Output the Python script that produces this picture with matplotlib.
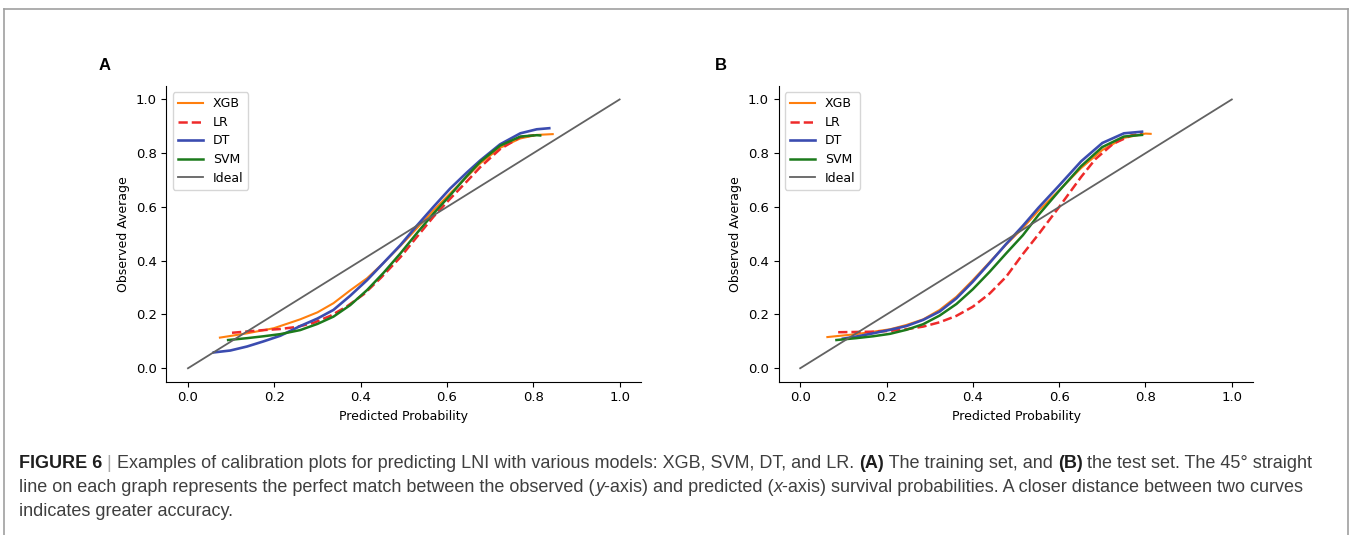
import matplotlib
matplotlib.use("Agg")
import matplotlib.pyplot as plt
from matplotlib.lines import Line2D

# Panel A (training set): points
a_xgb_x = [0.074, 0.137, 0.199, 0.260, 0.300, 0.337, 0.376, 0.415, 0.453, 0.492, 0.530, 0.569, 0.607, 0.646, 0.677, 0.723, 0.770, 0.808, 0.845]
a_xgb_y = [0.114, 0.130, 0.149, 0.182, 0.208, 0.242, 0.290, 0.335, 0.392, 0.455, 0.520, 0.588, 0.650, 0.712, 0.762, 0.820, 0.855, 0.868, 0.871]
a_lr_x = [0.102, 0.175, 0.214, 0.253, 0.291, 0.330, 0.368, 0.407, 0.446, 0.492, 0.530, 0.569, 0.607, 0.646, 0.677, 0.723, 0.770, 0.802]
a_lr_y = [0.132, 0.142, 0.146, 0.154, 0.169, 0.195, 0.230, 0.275, 0.335, 0.413, 0.488, 0.564, 0.630, 0.695, 0.748, 0.815, 0.860, 0.867]
a_dt_x = [0.060, 0.098, 0.137, 0.175, 0.214, 0.260, 0.300, 0.337, 0.376, 0.415, 0.453, 0.492, 0.530, 0.569, 0.607, 0.646, 0.677, 0.723, 0.770, 0.808, 0.837]
a_dt_y = [0.059, 0.066, 0.081, 0.100, 0.121, 0.157, 0.185, 0.217, 0.270, 0.328, 0.392, 0.458, 0.530, 0.601, 0.668, 0.728, 0.773, 0.833, 0.874, 0.889, 0.893]
a_svm_x = [0.093, 0.137, 0.175, 0.214, 0.260, 0.300, 0.337, 0.376, 0.415, 0.453, 0.492, 0.530, 0.569, 0.607, 0.646, 0.677, 0.723, 0.770, 0.808, 0.816]
a_svm_y = [0.105, 0.112, 0.119, 0.127, 0.142, 0.165, 0.192, 0.235, 0.291, 0.355, 0.427, 0.502, 0.576, 0.643, 0.715, 0.768, 0.828, 0.862, 0.867, 0.866]

# Panel B (test set)
b_xgb_x = [0.063, 0.130, 0.169, 0.208, 0.246, 0.285, 0.323, 0.362, 0.400, 0.439, 0.477, 0.516, 0.552, 0.600, 0.651, 0.700, 0.750, 0.800, 0.812]
b_xgb_y = [0.116, 0.127, 0.136, 0.145, 0.161, 0.182, 0.217, 0.266, 0.328, 0.395, 0.460, 0.522, 0.586, 0.662, 0.745, 0.812, 0.857, 0.873, 0.872]
b_lr_x = [0.088, 0.169, 0.208, 0.246, 0.285, 0.323, 0.362, 0.400, 0.439, 0.477, 0.516, 0.552, 0.600, 0.651, 0.684, 0.725, 0.767, 0.792]
b_lr_y = [0.134, 0.136, 0.139, 0.145, 0.155, 0.171, 0.195, 0.229, 0.278, 0.340, 0.425, 0.498, 0.600, 0.712, 0.778, 0.835, 0.866, 0.873]
b_dt_x = [0.099, 0.130, 0.169, 0.208, 0.246, 0.285, 0.323, 0.362, 0.400, 0.439, 0.477, 0.516, 0.552, 0.600, 0.651, 0.700, 0.750, 0.792]
b_dt_y = [0.110, 0.118, 0.130, 0.143, 0.157, 0.180, 0.211, 0.260, 0.322, 0.392, 0.462, 0.530, 0.597, 0.680, 0.770, 0.838, 0.874, 0.880]
b_svm_x = [0.084, 0.130, 0.169, 0.208, 0.246, 0.285, 0.323, 0.362, 0.400, 0.439, 0.477, 0.516, 0.552, 0.600, 0.651, 0.700, 0.750, 0.792]
b_svm_y = [0.105, 0.112, 0.119, 0.128, 0.143, 0.164, 0.196, 0.239, 0.294, 0.359, 0.427, 0.495, 0.570, 0.660, 0.752, 0.823, 0.862, 0.868]

ideal = [0.0, 1.0]
panel_labels = ["A", "B"]

W, H = 1352, 535
fig = plt.figure(figsize=(W / 100, H / 100), dpi=100)

# grey frame around the figure (left, top, right)
frame_col = "#a0a0a0"
top = 1 - 9 / H
fig.add_artist(Line2D([4 / W, 4 / W], [0, top], color=frame_col, lw=1.2))
fig.add_artist(Line2D([4 / W, 1348 / W], [top, top], color=frame_col, lw=1.2))
fig.add_artist(Line2D([1348 / W, 1348 / W], [0, top], color=frame_col, lw=1.2))

panels = [
    (a_xgb_x, a_xgb_y, a_lr_x, a_lr_y, a_dt_x, a_dt_y, a_svm_x, a_svm_y),
    (b_xgb_x, b_xgb_y, b_lr_x, b_lr_y, b_dt_x, b_dt_y, b_svm_x, b_svm_y),
]
ax_left = [166.4, 778.6]
lab_left = [99, 715]

for i, p in enumerate(panels):
    ax = fig.add_axes([ax_left[i] / W, (H - 381.7) / H, 474.8 / W, 295.7 / H])
    ax.plot(p[0], p[1], color="#ff7f0e", lw=1.5, label="XGB")
    ax.plot(p[2], p[3], color="#ee2a2a", lw=1.8, ls="--", label="LR")
    ax.plot(p[4], p[5], color="#3b4cb0", lw=1.9, label="DT")
    ax.plot(p[6], p[7], color="#1c7a1c", lw=1.8, label="SVM")
    ax.plot(ideal, ideal, color="#626262", lw=1.3, label="Ideal")
    ax.set_xlim(-0.05, 1.05)
    ax.set_ylim(-0.05, 1.05)
    ax.set_xticks([0, 0.2, 0.4, 0.6, 0.8, 1.0])
    ax.set_yticks([0, 0.2, 0.4, 0.6, 0.8, 1.0])
    ax.spines["top"].set_visible(False)
    ax.spines["right"].set_visible(False)
    ax.tick_params(labelsize=9.5)
    ax.set_xlabel("Predicted Probability", fontsize=9)
    ax.set_ylabel("Observed Average", fontsize=9)
    ax.legend(loc="upper left", fontsize=9, handlelength=2.0, labelspacing=0.45)
    fig.text(lab_left[i] / W, 1 - 66 / H, panel_labels[i],
             fontsize=12, fontweight="bold", family="Liberation Sans", va="center")

# caption with mixed bold / italic runs, laid out piece by piece
cap_fs = 13.0
grey = "#3f3f3f"
dark = "#1e1e1e"
lines = [
    [("FIGURE 6", "bold", "normal", dark), (" | ", "normal", "normal", "#aaaaaa"),
     ("Examples of calibration plots for predicting LNI with various models: XGB, SVM, DT, and LR. ", "normal", "normal", grey),
     ("(A)", "bold", "normal", dark), (" The training set, and ", "normal", "normal", grey),
     ("(B)", "bold", "normal", dark), (" the test set. The 45\u00b0 straight", "normal", "normal", grey)],
    [("line on each graph represents the perfect match between the observed (", "normal", "normal", grey),
     ("y", "normal", "italic", grey), ("-axis) and predicted (", "normal", "normal", grey),
     ("x", "normal", "italic", grey),
     ("-axis) survival probabilities. A closer distance between two curves", "normal", "normal", grey)],
    [("indicates greater accuracy.", "normal", "normal", grey)],
]
line_y = [463, 487, 512]

fig.canvas.draw()
renderer = fig.canvas.get_renderer()
for segs, ypix in zip(lines, line_y):
    xpix = 19
    for txt, wt, st, col in segs:
        t = fig.text(xpix / W, 1 - ypix / H, txt, fontsize=cap_fs, fontweight=wt,
                     fontstyle=st, color=col, family="Liberation Sans", va="center")
        xpix += t.get_window_extent(renderer).width

fig.savefig("out.png", dpi=100)
